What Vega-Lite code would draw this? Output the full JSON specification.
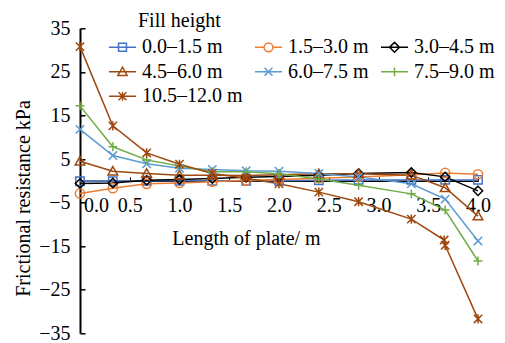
{
  "$schema": "https://vega.github.io/schema/vega-lite/v6.json",
  "width": 398,
  "height": 305,
  "autosize": "none",
  "padding": {"left": 80, "top": 28.3, "right": 27, "bottom": 9.7},
  "background": "white",
  "config": {"view": {"stroke": null}, "font": "Liberation Serif"},
  "data": {"values": [
    {"series": "0.0–1.5 m", "x": 0, "y": -0.1}, {"series": "0.0–1.5 m", "x": 0.33, "y": -0.1}, {"series": "0.0–1.5 m", "x": 0.67, "y": 0}, {"series": "0.0–1.5 m", "x": 1.0, "y": 0}, {"series": "0.0–1.5 m", "x": 1.33, "y": 0}, {"series": "0.0–1.5 m", "x": 1.67, "y": 0}, {"series": "0.0–1.5 m", "x": 2.0, "y": 0}, {"series": "0.0–1.5 m", "x": 2.4, "y": 0.1}, {"series": "0.0–1.5 m", "x": 2.8, "y": 0.2}, {"series": "0.0–1.5 m", "x": 3.33, "y": 0.2}, {"series": "0.0–1.5 m", "x": 3.67, "y": 0.2}, {"series": "0.0–1.5 m", "x": 4.0, "y": 0.2},
    {"series": "1.5–3.0 m", "x": 0, "y": -2.9}, {"series": "1.5–3.0 m", "x": 0.33, "y": -1.7}, {"series": "1.5–3.0 m", "x": 0.67, "y": -0.7}, {"series": "1.5–3.0 m", "x": 1.0, "y": -0.5}, {"series": "1.5–3.0 m", "x": 1.33, "y": -0.2}, {"series": "1.5–3.0 m", "x": 1.67, "y": 0.1}, {"series": "1.5–3.0 m", "x": 2.0, "y": 0.3}, {"series": "1.5–3.0 m", "x": 2.4, "y": 0.6}, {"series": "1.5–3.0 m", "x": 2.8, "y": 0.9}, {"series": "1.5–3.0 m", "x": 3.33, "y": 1.4}, {"series": "1.5–3.0 m", "x": 3.67, "y": 1.8}, {"series": "1.5–3.0 m", "x": 4.0, "y": 1.5},
    {"series": "3.0–4.5 m", "x": 0, "y": -0.6}, {"series": "3.0–4.5 m", "x": 0.33, "y": -0.5}, {"series": "3.0–4.5 m", "x": 0.67, "y": 0.1}, {"series": "3.0–4.5 m", "x": 1.0, "y": 0.3}, {"series": "3.0–4.5 m", "x": 1.33, "y": 0.5}, {"series": "3.0–4.5 m", "x": 1.67, "y": 0.8}, {"series": "3.0–4.5 m", "x": 2.0, "y": 1.0}, {"series": "3.0–4.5 m", "x": 2.4, "y": 1.3}, {"series": "3.0–4.5 m", "x": 2.8, "y": 1.7}, {"series": "3.0–4.5 m", "x": 3.33, "y": 1.9}, {"series": "3.0–4.5 m", "x": 3.67, "y": 0.9}, {"series": "3.0–4.5 m", "x": 4.0, "y": -2.3},
    {"series": "4.5–6.0 m", "x": 0, "y": 4.5}, {"series": "4.5–6.0 m", "x": 0.33, "y": 2.2}, {"series": "4.5–6.0 m", "x": 0.67, "y": 1.7}, {"series": "4.5–6.0 m", "x": 1.0, "y": 1.3}, {"series": "4.5–6.0 m", "x": 1.33, "y": 1.3}, {"series": "4.5–6.0 m", "x": 1.67, "y": 1.2}, {"series": "4.5–6.0 m", "x": 2.0, "y": 1.4}, {"series": "4.5–6.0 m", "x": 2.4, "y": 1.6}, {"series": "4.5–6.0 m", "x": 2.8, "y": 1.6}, {"series": "4.5–6.0 m", "x": 3.33, "y": 1.3}, {"series": "4.5–6.0 m", "x": 3.67, "y": -1.6}, {"series": "4.5–6.0 m", "x": 4.0, "y": -8.1},
    {"series": "6.0–7.5 m", "x": 0, "y": 11.8}, {"series": "6.0–7.5 m", "x": 0.33, "y": 5.8}, {"series": "6.0–7.5 m", "x": 0.67, "y": 3.9}, {"series": "6.0–7.5 m", "x": 1.0, "y": 2.9}, {"series": "6.0–7.5 m", "x": 1.33, "y": 2.6}, {"series": "6.0–7.5 m", "x": 1.67, "y": 2.3}, {"series": "6.0–7.5 m", "x": 2.0, "y": 2.2}, {"series": "6.0–7.5 m", "x": 2.4, "y": 1.7}, {"series": "6.0–7.5 m", "x": 2.8, "y": 0.9}, {"series": "6.0–7.5 m", "x": 3.33, "y": -0.7}, {"series": "6.0–7.5 m", "x": 3.67, "y": -4.2}, {"series": "6.0–7.5 m", "x": 4.0, "y": -13.8},
    {"series": "7.5–9.0 m", "x": 0, "y": 17.2}, {"series": "7.5–9.0 m", "x": 0.33, "y": 7.8}, {"series": "7.5–9.0 m", "x": 0.67, "y": 4.8}, {"series": "7.5–9.0 m", "x": 1.0, "y": 3.4}, {"series": "7.5–9.0 m", "x": 1.33, "y": 2.1}, {"series": "7.5–9.0 m", "x": 1.67, "y": 2.1}, {"series": "7.5–9.0 m", "x": 2.0, "y": 1.6}, {"series": "7.5–9.0 m", "x": 2.4, "y": 0.4}, {"series": "7.5–9.0 m", "x": 2.8, "y": -1.0}, {"series": "7.5–9.0 m", "x": 3.33, "y": -3.0}, {"series": "7.5–9.0 m", "x": 3.67, "y": -6.7}, {"series": "7.5–9.0 m", "x": 4.0, "y": -18.4},
    {"series": "10.5–12.0 m", "x": 0, "y": 30.8}, {"series": "10.5–12.0 m", "x": 0.33, "y": 12.6}, {"series": "10.5–12.0 m", "x": 0.67, "y": 6.4}, {"series": "10.5–12.0 m", "x": 1.0, "y": 3.8}, {"series": "10.5–12.0 m", "x": 1.33, "y": 1.7}, {"series": "10.5–12.0 m", "x": 1.67, "y": 0.6}, {"series": "10.5–12.0 m", "x": 2.0, "y": -0.7}, {"series": "10.5–12.0 m", "x": 2.4, "y": -2.6}, {"series": "10.5–12.0 m", "x": 2.8, "y": -4.8}, {"series": "10.5–12.0 m", "x": 3.33, "y": -8.8}, {"series": "10.5–12.0 m", "x": 3.66, "y": -13.6}, {"series": "10.5–12.0 m", "x": 3.67, "y": -14.8}, {"series": "10.5–12.0 m", "x": 4.0, "y": -31.7}
  ]},
  "encoding": {
    "x": {
      "field": "x", "type": "quantitative",
      "scale": {"domain": [0, 4], "nice": false, "zero": false},
      "axis": {
        "values": [0, 0.5, 1, 1.5, 2, 2.5, 3, 3.5, 4], "format": ".1f",
        "title": "Length of plate/ m", "grid": false, "offset": -152.5,
        "domainColor": "black", "domainWidth": 1.5,
        "tickColor": "black", "tickSize": -4, "tickWidth": 1,
        "labelFlush": false, "labelPadding": 19, "labelFontSize": 20, "labelColor": "black", "labelFont": "Liberation Serif",
        "labelOffset": {"condition": {"test": "datum.value == 0", "value": 16}, "value": 0},
        "titleX": 166, "titleY": 58, "titleBaseline": "middle",
        "titleFontSize": 20, "titleFontWeight": "normal", "titleColor": "black", "titleFont": "Liberation Serif"
      }
    },
    "y": {
      "field": "y", "type": "quantitative",
      "scale": {"domain": [-35, 35], "nice": false, "zero": false},
      "axis": {
        "values": [-35, -25, -15, -5, 5, 15, 25, 35],
        "title": "Frictional resistance kPa", "grid": false,
        "domainColor": "black", "domainWidth": 2,
        "tickColor": "black", "tickSize": -5, "tickWidth": 1.5,
        "labelFlush": false, "labelPadding": 15, "labelFontSize": 20, "labelColor": "black", "labelFont": "Liberation Serif",
        "titleX": -50.7, "titleY": 169.7, "titleBaseline": "alphabetic",
        "titleFontSize": 20, "titleFontWeight": "normal", "titleColor": "black", "titleFont": "Liberation Serif"
      }
    },
    "color": {
      "field": "series", "type": "nominal",
      "scale": {
        "domain": ["0.0–1.5 m", "1.5–3.0 m", "3.0–4.5 m", "4.5–6.0 m", "6.0–7.5 m", "7.5–9.0 m", "10.5–12.0 m"],
        "range": ["#4472C4", "#ED7D31", "#000000", "#9E480E", "#5B9BD5", "#70AD47", "#9E480E"]
      },
      "legend": {
        "title": "Fill height", "orient": "none", "legendX": 30.5, "legendY": -17,
        "direction": "horizontal",
        "columns": 3, "columnPadding": 8, "rowPadding": 2.5, "gridAlign": "each",
        "symbolSize": 484, "symbolStrokeWidth": 1.5, "symbolOpacity": 1,
        "labelFontSize": 20, "labelFont": "Liberation Serif", "labelColor": "black", "labelOffset": 7.5,
        "titleFontSize": 20, "titleFontWeight": "normal", "titleFont": "Liberation Serif", "titleColor": "black", "titlePadding": 4,
        "padding": 0,
        "encode": {"title": {"update": {"dx": {"value": 27.5}}}}
      }
    }
  },
  "layer": [
    {"mark": {"type": "line", "strokeWidth": 1.5}},
    {"transform": [{"filter": "datum.series === '0.0–1.5 m'"}], "mark": {"type": "point", "filled": false, "shape": "M-1,-1H1V1H-1Z", "size": 70, "strokeWidth": 1.5, "opacity": 1}},
    {"transform": [{"filter": "datum.series === '1.5–3.0 m'"}], "mark": {"type": "point", "filled": false, "shape": "circle", "size": 85, "strokeWidth": 1.5, "opacity": 1}},
    {"transform": [{"filter": "datum.series === '3.0–4.5 m'"}], "mark": {"type": "point", "filled": false, "shape": "M0,-1.2L1.2,0L0,1.2L-1.2,0Z", "size": 60, "strokeWidth": 1.5, "opacity": 1}},
    {"transform": [{"filter": "datum.series === '4.5–6.0 m'"}], "mark": {"type": "point", "filled": false, "shape": "M0,-1.1L1.15,0.9L-1.15,0.9Z", "size": 70, "strokeWidth": 1.5, "opacity": 1}},
    {"transform": [{"filter": "datum.series === '6.0–7.5 m'"}], "mark": {"type": "point", "filled": false, "shape": "M-1,-1L1,1M-1,1L1,-1", "size": 70, "strokeWidth": 1.5, "opacity": 1}},
    {"transform": [{"filter": "datum.series === '7.5–9.0 m'"}], "mark": {"type": "point", "filled": false, "shape": "M-1,0H1M0,-1V1", "size": 80, "strokeWidth": 1.5, "opacity": 1}},
    {"transform": [{"filter": "datum.series === '10.5–12.0 m'"}], "mark": {"type": "point", "filled": false, "shape": "M-1,-1L1,1M-1,1L1,-1M0,-1.1V1.1", "size": 70, "strokeWidth": 1.5, "opacity": 1}},
    {
      "mark": {"type": "point", "filled": false, "opacity": 0, "size": 484, "strokeWidth": 1.5},
      "encoding": {
        "shape": {
          "field": "series", "type": "nominal",
          "scale": {
            "domain": ["0.0–1.5 m", "1.5–3.0 m", "3.0–4.5 m", "4.5–6.0 m", "6.0–7.5 m", "7.5–9.0 m", "10.5–12.0 m"],
            "range": [
              "M-1.23,0H1.23M-0.36,-0.36H0.36V0.36H-0.36Z",
              "M-1.23,0H-0.4M0.4,0H1.23M0.4,0A0.4,0.4,0,1,1,-0.4,0A0.4,0.4,0,1,1,0.4,0",
              "M-1.23,0H1.23M0,-0.45L0.45,0L0,0.45L-0.45,0Z",
              "M-1.23,0H1.23M0,-0.42L0.42,0.33L-0.42,0.33Z",
              "M-1.23,0H1.23M-0.36,-0.36L0.36,0.36M-0.36,0.36L0.36,-0.36",
              "M-1.23,0H1.23M0,-0.4V0.4",
              "M-1.23,0H1.23M-0.36,-0.36L0.36,0.36M-0.36,0.36L0.36,-0.36M0,-0.4V0.4"
            ]
          },
          "legend": {
            "title": "Fill height", "orient": "none", "legendX": 30.5, "legendY": -17,
            "direction": "horizontal",
            "columns": 3, "columnPadding": 8, "rowPadding": 2.5, "gridAlign": "each",
            "symbolSize": 484, "symbolStrokeWidth": 1.5, "symbolOpacity": 1,
            "labelFontSize": 20, "labelFont": "Liberation Serif", "labelColor": "black", "labelOffset": 7.5,
            "titleFontSize": 20, "titleFontWeight": "normal", "titleFont": "Liberation Serif", "titleColor": "black", "titlePadding": 4,
            "padding": 0,
            "encode": {"title": {"update": {"dx": {"value": 27.5}}}}
          }
        }
      }
    }
  ]
}
